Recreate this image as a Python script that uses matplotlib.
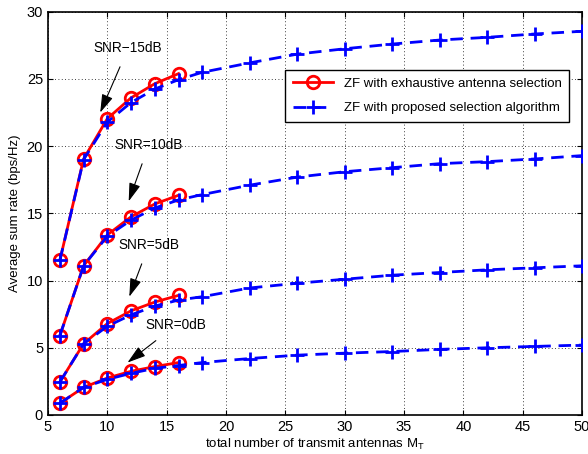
import matplotlib
matplotlib.use("Agg")
import matplotlib.pyplot as plt

# antenna counts
x_exh = [6, 8, 10, 12, 14, 16]
x_prop = [6, 8, 10, 12, 14, 16, 18, 22, 26, 30, 34, 38, 42, 46, 50]

# exhaustive antenna selection (red)
exh_15 = [11.5, 19.05, 22.05, 23.6, 24.65, 25.4]
exh_10 = [5.9, 11.1, 13.4, 14.75, 15.7, 16.35]
exh_5 = [2.45, 5.3, 6.8, 7.75, 8.4, 8.9]
exh_0 = [0.87, 2.05, 2.75, 3.25, 3.6, 3.9]

# proposed selection algorithm (blue)
prop_15 = [11.5, 19.0, 21.8, 23.25, 24.25, 24.95, 25.5, 26.2, 26.85, 27.25, 27.6, 27.9, 28.1, 28.35, 28.55]
prop_10 = [5.9, 11.1, 13.3, 14.5, 15.4, 16.0, 16.4, 17.1, 17.7, 18.1, 18.4, 18.7, 18.85, 19.05, 19.3]
prop_5 = [2.45, 5.3, 6.6, 7.45, 8.1, 8.55, 8.8, 9.45, 9.8, 10.1, 10.4, 10.6, 10.8, 10.95, 11.1]
prop_0 = [0.87, 2.05, 2.65, 3.1, 3.47, 3.68, 3.9, 4.2, 4.45, 4.6, 4.72, 4.88, 5.0, 5.1, 5.2]

labels = ["SNR\u221215dB", "SNR=10dB", "SNR=5dB", "SNR=0dB"]
label_pos = [(11.75, 27.3), (13.5, 20.1), (13.5, 12.65), (15.8, 6.7)]
arrow_tip = [(9.4, 22.5), (11.8, 15.9), (11.85, 8.8), (11.7, 3.9)]

plt.rcParams['font.family'] = ['Liberation Sans', 'DejaVu Sans']

fig = plt.figure(figsize=(5.88, 4.54), dpi=100)
ax = fig.add_axes([0.0816, 0.086, 0.9084, 0.888])

exh = [exh_15, exh_10, exh_5, exh_0]
prop = [prop_15, prop_10, prop_5, prop_0]
for i in range(4):
    ax.plot(x_exh, exh[i], '-o', color='red', lw=2, ms=9, mfc='none', mew=2,
            label="ZF with exhaustive antenna selection" if i == 0 else None, zorder=3)
    ax.plot(x_prop, prop[i], '--+', color='blue', lw=2, ms=10, mew=2, dashes=(4.5, 2.8),
            label="ZF with proposed selection algorithm" if i == 0 else None, zorder=4)

for lab, (tx, ty), (ax_, ay) in zip(labels, label_pos, arrow_tip):
    ax.annotate(lab, xy=(ax_, ay), xytext=(tx, ty), ha='center', va='center', fontsize=9.8,
                arrowprops=dict(arrowstyle='-|>,head_length=0.8,head_width=0.25', color='black',
                                lw=0.8, mutation_scale=14, shrinkA=7, shrinkB=0))

ax.set_xlim(5, 50)
ax.set_ylim(0, 30)
ax.set_xticks(range(5, 51, 5))
ax.set_yticks(range(0, 31, 5))
ax.grid(True, linestyle=(0, (1, 3)), color='black', lw=0.6)
ax.tick_params(direction='in', top=True, right=True, labelsize=10.5)
for s in ax.spines.values():
    s.set_linewidth(1.2)

ax.set_xlabel("total number of transmit antennas M$_\\mathregular{T}$", fontsize=9.5, labelpad=2)
ax.set_ylabel("Average sum rate (bps/Hz)", fontsize=9.5, labelpad=4)

leg = ax.legend(loc='upper right', bbox_to_anchor=(0.976, 0.856), fontsize=9.5,
                fancybox=False, framealpha=1, edgecolor='black', borderaxespad=0,
                handlelength=3, labelspacing=0.9, borderpad=0.6)
leg.get_frame().set_linewidth(1.0)

fig.savefig("out.png", dpi=100)
